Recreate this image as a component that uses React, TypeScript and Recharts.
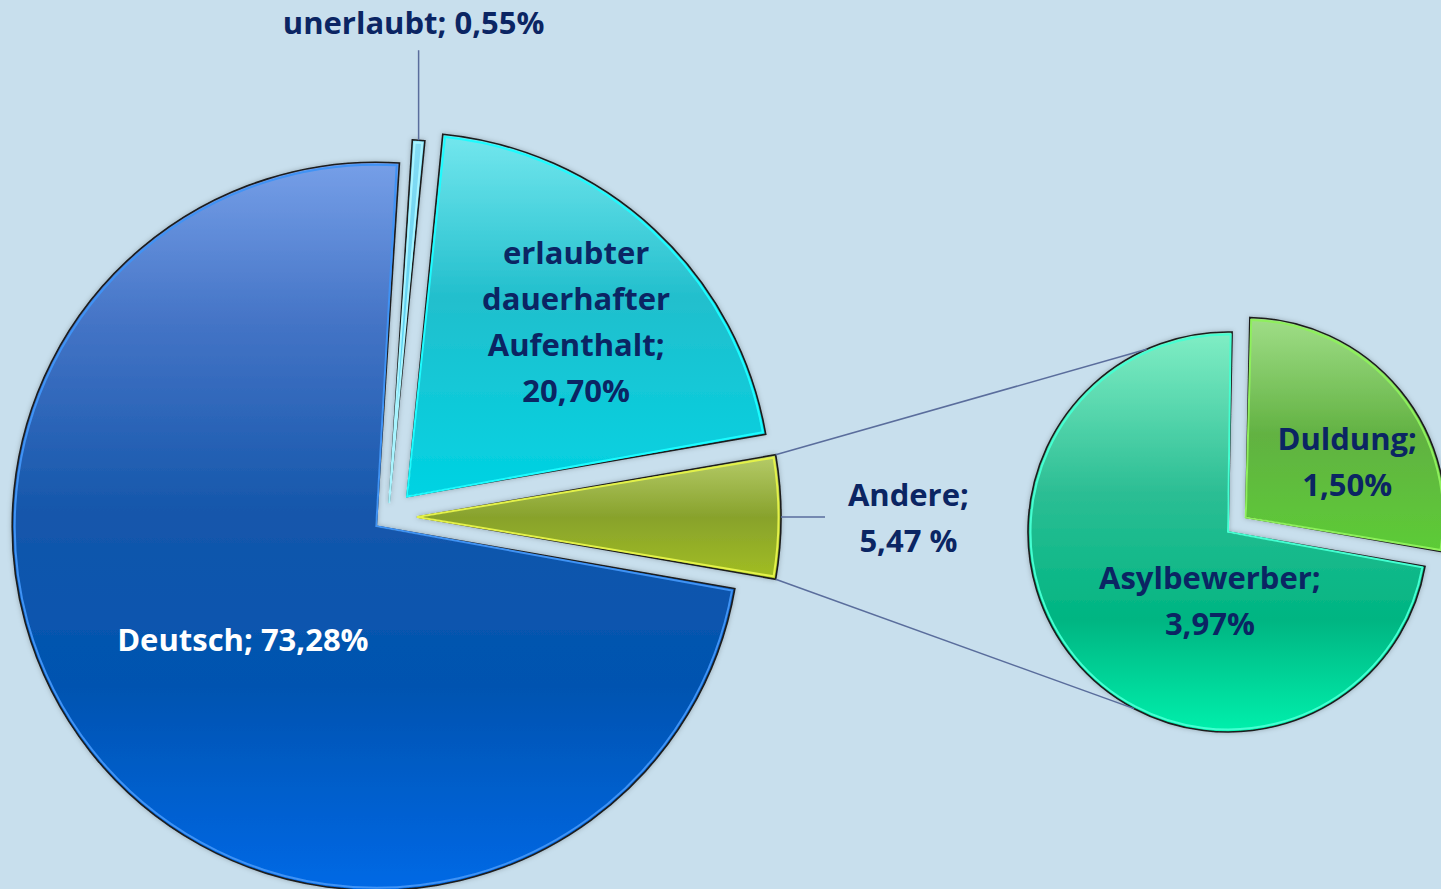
import React from 'react';
import { PieChart, Pie, Cell, Sector } from 'recharts';

// Hauptkreis (Reihenfolge gegen den Uhrzeigersinn ab 3 Uhr)
const MAIN_NAMES = ['Andere', 'erlaubter dauerhafter Aufenthalt', 'unerlaubt', 'Deutsch'];
const MAIN_VALUES = [5.47, 20.7, 0.55, 73.28];
const MAIN_LABELS = [
  ['Andere;', '5,47 %'],
  ['erlaubter', 'dauerhafter', 'Aufenthalt;', '20,70%'],
  ['unerlaubt; 0,55%'],
  ['Deutsch; 73,28%'],
];

// Sekundärkreis ("Andere" aufgeteilt)
const SUB_NAMES = ['Duldung', 'Asylbewerber'];
const SUB_VALUES = [1.5, 3.97];
const SUB_LABELS = [
  ['Duldung;', '1,50%'],
  ['Asylbewerber;', '3,97%'],
];

const mainData = MAIN_NAMES.map((name, i) => ({ name, value: MAIN_VALUES[i] }));
const subData = SUB_NAMES.map((name, i) => ({ name, value: SUB_VALUES[i] }));

const W = 1441;
const H = 889;
const RAD = Math.PI / 180;
const MAIN = { cx: 388, cy: 517, r: 364 };
const SUB = { cx: 1228, cy: 532, r: 200 };
const MAIN_EXPLODE = [29, 28, 14, 15];
const SUB_EXPLODE = [23, 0];
const MAIN_FILL = ['url(#gAndere)', 'url(#gErlaubt)', 'url(#gUnerlaubt)', 'url(#gDeutsch)'];
const MAIN_EDGE = ['#e4f24a', '#1ffcff', '#a8f4ff', '#3f93f5'];
const SUB_FILL = ['url(#gDuldung)', 'url(#gAsyl)'];
const SUB_EDGE = ['#8ef05c', '#45ffd2'];
const TEXT = '#0b2563';
const LEADER = '#5a6d9c';
const LINE_H = 46;
const FONT = '"Open Sans", "Noto Sans", sans-serif';

const polar = (cx: number, cy: number, r: number, angle: number) => ({
  x: cx + r * Math.cos(-angle * RAD),
  y: cy + r * Math.sin(-angle * RAD),
});

const nameIndex = (props: any, names: string[]) =>
  names.indexOf(props.payload?.name ?? props.name);

const Lines = ({ x, y, lines, fill }: { x: number; y: number; lines: string[]; fill: string }) => (
  <g>
    {lines.map((t, j) => (
      <text
        key={j}
        x={x}
        y={y + (j - (lines.length - 1) / 2) * LINE_H}
        textAnchor="middle"
        dominantBaseline="central"
        fill={fill}
        fontFamily={FONT}
        fontWeight={700}
        fontSize={31}
      >
        {t}
      </text>
    ))}
  </g>
);

const makeShape = (names: string[], explode: number[], edges: string[]) => (props: any) => {
  const i = nameIndex(props, names);
  const d = explode[i] ?? 0;
  const p = polar(props.cx, props.cy, d, props.midAngle);
  return (
    <g filter="url(#shadow)">
      <Sector
        cx={p.x}
        cy={p.y}
        innerRadius={0}
        outerRadius={props.outerRadius}
        startAngle={props.startAngle}
        endAngle={props.endAngle}
        fill={props.fill}
        stroke="#1b1b1b"
        strokeWidth={1.6}
      />
      <Sector
        cx={p.x}
        cy={p.y}
        innerRadius={0}
        outerRadius={props.outerRadius - 2.5}
        startAngle={props.startAngle + 0.4}
        endAngle={props.endAngle - 0.4}
        fill="none"
        stroke={edges[i]}
        strokeWidth={2}
      />
    </g>
  );
};

const mainShape = makeShape(MAIN_NAMES, MAIN_EXPLODE, MAIN_EDGE);
const subShape = makeShape(SUB_NAMES, SUB_EXPLODE, SUB_EDGE);

const renderMainLabel = (props: any) => {
  const i = nameIndex(props, MAIN_NAMES);
  const { cx, cy, midAngle, outerRadius, startAngle, endAngle } = props;
  const c = polar(cx, cy, MAIN_EXPLODE[i], midAngle);
  if (i === 0) {
    // Andere: Beschriftung außen, Verbindungslinien zum Sekundärkreis
    const a = polar(c.x, c.y, outerRadius, midAngle);
    const b = polar(c.x, c.y, outerRadius + 44, midAngle);
    const t = polar(c.x, c.y, outerRadius * 1.35, midAngle);
    const top = polar(c.x, c.y, outerRadius, Math.max(startAngle, endAngle));
    const bot = polar(c.x, c.y, outerRadius, Math.min(startAngle, endAngle));
    const subTop = polar(SUB.cx, SUB.cy, SUB.r, 114);
    const subBot = polar(SUB.cx, SUB.cy, SUB.r, 242);
    return (
      <g>
        <line x1={top.x} y1={top.y} x2={subTop.x} y2={subTop.y} stroke={LEADER} strokeWidth={1.5} />
        <line x1={bot.x} y1={bot.y} x2={subBot.x} y2={subBot.y} stroke={LEADER} strokeWidth={1.5} />
        <line x1={a.x} y1={a.y} x2={b.x} y2={b.y} stroke={LEADER} strokeWidth={1.5} />
        <Lines x={t.x} y={t.y} lines={MAIN_LABELS[i]} fill={TEXT} />
      </g>
    );
  }
  if (i === 2) {
    // unerlaubt: senkrechte Führungslinie nach oben
    const a = polar(c.x, c.y, outerRadius, midAngle);
    return (
      <g>
        <line x1={a.x} y1={a.y} x2={a.x} y2={a.y - 90} stroke={LEADER} strokeWidth={1.5} />
        <Lines x={a.x - 5} y={a.y - 118} lines={MAIN_LABELS[i]} fill={TEXT} />
      </g>
    );
  }
  const k = i === 1 ? 0.67 : 0.48;
  const t = polar(c.x, c.y, outerRadius * k, midAngle + (i === 1 ? -1 : 2));
  return <Lines x={t.x} y={t.y} lines={MAIN_LABELS[i]} fill={i === 3 ? '#ffffff' : TEXT} />;
};

const SUB_LABEL_POS = [
  { angle: 29, k: 0.58 },
  { angle: 255, k: 0.35 },
];

const renderSubLabel = (props: any) => {
  const i = nameIndex(props, SUB_NAMES);
  const c = polar(props.cx, props.cy, SUB_EXPLODE[i], props.midAngle);
  const t = polar(c.x, c.y, props.outerRadius * SUB_LABEL_POS[i].k, SUB_LABEL_POS[i].angle);
  return <Lines x={t.x} y={t.y} lines={SUB_LABELS[i]} fill={TEXT} />;
};

const App: React.FC = () => {
  const mainStart = -(MAIN_VALUES[0] / 100) * 180;
  const subStart = -9.9;
  return (
    <div style={{ width: W, height: H, background: '#c8dfed', overflow: 'hidden' }}>
      <style>{'body{margin:0}'}</style>
      <PieChart width={W} height={H} margin={{ top: 0, right: 0, bottom: 0, left: 0 }}>
        <defs>
          <filter id="shadow" x="-10%" y="-10%" width="120%" height="120%">
            <feDropShadow dx="0" dy="0" stdDeviation="2.5" floodColor="#000" floodOpacity="0.25" />
          </filter>
          <linearGradient id="gDeutsch" x1="0" y1="0" x2="0" y2="1">
            <stop offset="0" stopColor="#769fe8" />
            <stop offset="0.22" stopColor="#4474c6" />
            <stop offset="0.48" stopColor="#1557ab" />
            <stop offset="0.72" stopColor="#0053b0" />
            <stop offset="1" stopColor="#0069e6" />
          </linearGradient>
          <linearGradient id="gErlaubt" x1="0" y1="0" x2="0" y2="1">
            <stop offset="0" stopColor="#74e7ee" />
            <stop offset="0.45" stopColor="#22bfcd" />
            <stop offset="1" stopColor="#00d3e3" />
          </linearGradient>
          <linearGradient id="gUnerlaubt" x1="0" y1="0" x2="0" y2="1">
            <stop offset="0" stopColor="#86dcf4" />
            <stop offset="1" stopColor="#3cc6ec" />
          </linearGradient>
          <linearGradient id="gAndere" x1="0" y1="0" x2="0" y2="1">
            <stop offset="0" stopColor="#b6cc6a" />
            <stop offset="0.5" stopColor="#88a22c" />
            <stop offset="1" stopColor="#a2be22" />
          </linearGradient>
          <linearGradient id="gAsyl" x1="0" y1="0" x2="0" y2="1">
            <stop offset="0" stopColor="#80eec5" />
            <stop offset="0.4" stopColor="#2cbe94" />
            <stop offset="0.72" stopColor="#00b582" />
            <stop offset="1" stopColor="#00f0ac" />
          </linearGradient>
          <linearGradient id="gDuldung" x1="0" y1="0" x2="0" y2="1">
            <stop offset="0" stopColor="#a0de88" />
            <stop offset="0.5" stopColor="#62b242" />
            <stop offset="1" stopColor="#5ccc36" />
          </linearGradient>
        </defs>
        <Pie
          data={mainData}
          dataKey="value"
          nameKey="name"
          cx={MAIN.cx}
          cy={MAIN.cy}
          innerRadius={0}
          outerRadius={MAIN.r}
          startAngle={mainStart}
          endAngle={mainStart + 360}
          shape={mainShape}
          label={renderMainLabel}
          labelLine={false}
          isAnimationActive={false}
        >
          {mainData.map((e, i) => (
            <Cell key={e.name} fill={MAIN_FILL[i]} />
          ))}
        </Pie>
        <Pie
          data={subData}
          dataKey="value"
          nameKey="name"
          cx={SUB.cx}
          cy={SUB.cy}
          innerRadius={0}
          outerRadius={SUB.r}
          startAngle={subStart}
          endAngle={subStart + 360}
          shape={subShape}
          label={renderSubLabel}
          labelLine={false}
          isAnimationActive={false}
        >
          {subData.map((e, i) => (
            <Cell key={e.name} fill={SUB_FILL[i]} />
          ))}
        </Pie>
      </PieChart>
    </div>
  );
};

export default App;
